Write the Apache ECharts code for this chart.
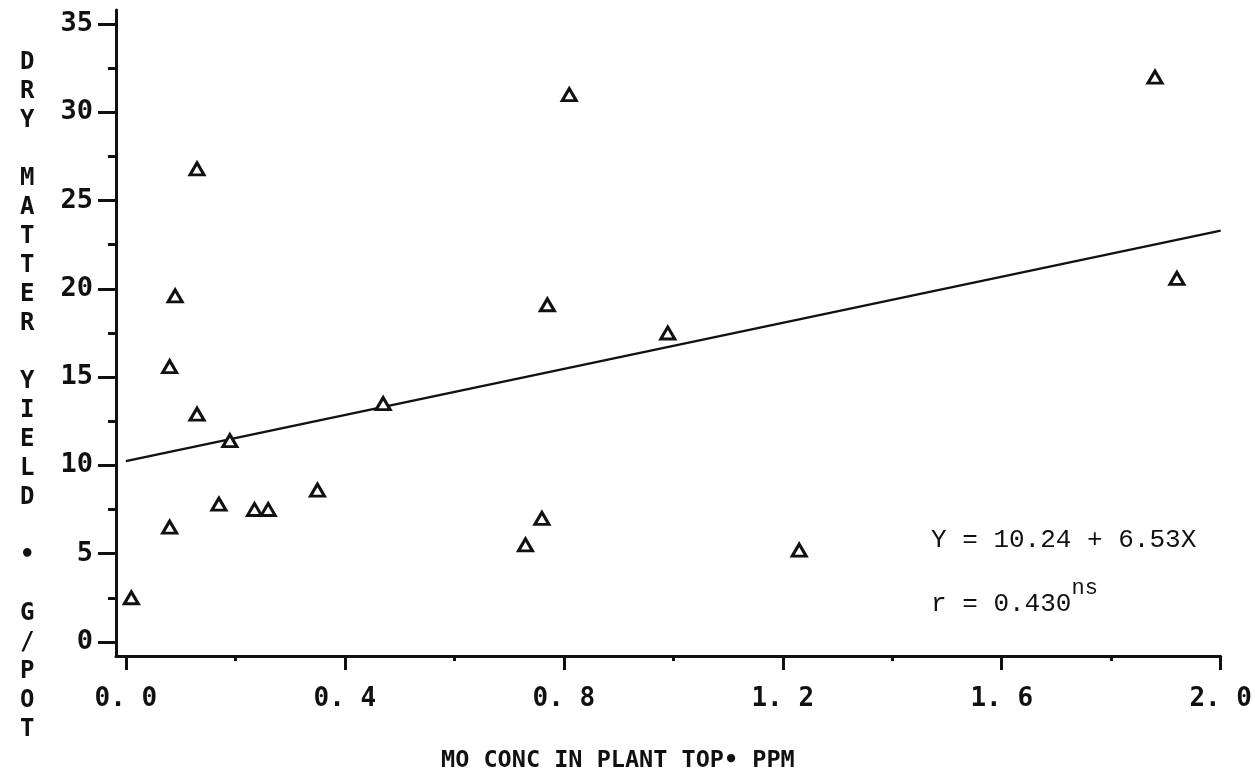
<!DOCTYPE html>
<html>
<head>
<meta charset="utf-8">
<script src="https://cdn.jsdelivr.net/npm/echarts@6/dist/echarts.min.js"></script>
<style>
html,body{margin:0;padding:0;background:#fff;}
#chart{width:1255px;height:775px;}
</style>
</head>
<body>
<div id="chart"></div>
<script>
// ---- data ----
const moConc    = [0.01, 0.08, 0.08, 0.09, 0.13, 0.13, 0.17, 0.19, 0.235, 0.26, 0.35, 0.47, 0.73, 0.76, 0.77, 0.81, 0.99, 1.23, 1.88, 1.92];
const dryMatter = [2.5, 6.5, 15.6, 19.6, 26.8, 12.9, 7.8, 11.4, 7.5, 7.5, 8.6, 13.5, 5.5, 7.0, 19.1, 31.0, 17.5, 5.2, 32.0, 20.6];
const regX = [0.0, 2.0];
const regY = [10.24, 23.30];
const xMajorTicks = [0.0, 0.4, 0.8, 1.2, 1.6, 2.0];
const xMinorTicks = [0.2, 0.6, 1.0, 1.4, 1.8];
const yMajorTicks = [0, 5, 10, 15, 20, 25, 30, 35];
const yMinorTicks = [2.5, 7.5, 12.5, 17.5, 22.5, 27.5, 32.5];
const yTitle = 'DRY MATTER YIELD • G/POT';
const xTitle = 'MO CONC IN PLANT TOP• PPM';
const eqText = 'Y = 10.24 + 6.53X';
const rText = 'r = 0.430';
const rSup = 'ns';

const ink = '#111';
const mono = '"DejaVu Sans Mono", monospace';
const typew = '"Liberation Mono", "Courier New", monospace';

const scatterData = moConc.map((x, i) => [x, dryMatter[i]]);
const regData = regX.map((x, i) => [x, regY[i]]);
const yTitleStacked = yTitle.split(' ').map(w => w.split('').join('\n')).join('\n\n');

const chart = echarts.init(document.getElementById('chart'), null, {renderer: 'canvas'});
const xCommon = {type: 'value', min: -0.018, max: 2.0, splitLine: {show: false}};
const yCommon = {type: 'value', min: -0.8, max: 35.8, splitLine: {show: false}};
chart.setOption({
  backgroundColor: '#fff',
  animation: false,
  title: [
    {text: yTitleStacked, left: 15, top: 43,
     textStyle: {fontFamily: mono, fontWeight: 'bold', fontSize: 24, lineHeight: 29, color: ink}},
    {text: xTitle, left: 436, top: 744,
     textStyle: {fontFamily: mono, fontWeight: 'bold', fontSize: 23.5, color: ink}},
    {text: eqText, left: 926, top: 522,
     textStyle: {fontFamily: typew, fontSize: 26, fontWeight: 'normal', color: ink}},
    {text: '{a|' + rText + '}{b|' + rSup + '}', left: 926, top: 572,
     textStyle: {rich: {
       a: {fontFamily: typew, fontSize: 26, fontWeight: 'normal', color: ink, verticalAlign: 'bottom', lineHeight: 40},
       b: {fontFamily: typew, fontSize: 22, fontWeight: 'normal', color: ink, verticalAlign: 'top', lineHeight: 40, padding: [0, 0, 14, 0]}
     }}}
  ],
  grid: {left: 116, right: 33, top: 10, bottom: 119},
  xAxis: [
    Object.assign({}, xCommon, {
      position: 'bottom',
      axisLine: {show: true, onZero: false, lineStyle: {color: ink, width: 3}},
      axisTick: {show: true, inside: false, length: 14, customValues: xMajorTicks, lineStyle: {color: ink, width: 3}},
      axisLabel: {show: true, customValues: xMajorTicks, margin: 30,
        formatter: v => v.toFixed(1).replace('.', '.\u2009'),
        fontFamily: mono, fontWeight: 'bold', fontSize: 26, color: ink}
    }),
    Object.assign({}, xCommon, {
      position: 'bottom',
      axisLine: {show: false, onZero: false},
      axisTick: {show: true, inside: false, length: 5, customValues: xMinorTicks, lineStyle: {color: ink, width: 3}},
      axisLabel: {show: false}
    })
  ],
  yAxis: [
    Object.assign({}, yCommon, {
      position: 'left',
      axisLine: {show: true, onZero: false, lineStyle: {color: ink, width: 3}},
      axisTick: {show: true, inside: false, length: 18, customValues: yMajorTicks, lineStyle: {color: ink, width: 3}},
      axisLabel: {show: true, customValues: yMajorTicks, margin: 23,
        fontFamily: mono, fontWeight: 'bold', fontSize: 27, color: ink}
    }),
    Object.assign({}, yCommon, {
      position: 'left',
      axisLine: {show: false, onZero: false},
      axisTick: {show: true, inside: false, length: 8, customValues: yMinorTicks, lineStyle: {color: ink, width: 3}},
      axisLabel: {show: false}
    })
  ],
  series: [
    {type: 'line', data: regData, xAxisIndex: 0, yAxisIndex: 0, showSymbol: false, symbol: 'none',
     lineStyle: {color: ink, width: 2.5}, silent: true, z: 2},
    {type: 'scatter', data: scatterData, xAxisIndex: 0, yAxisIndex: 0, symbol: 'triangle', symbolSize: [14, 12],
     itemStyle: {color: '#fff', borderColor: ink, borderWidth: 3, opacity: 1}, z: 3}
  ]
});
</script>
</body>
</html>
